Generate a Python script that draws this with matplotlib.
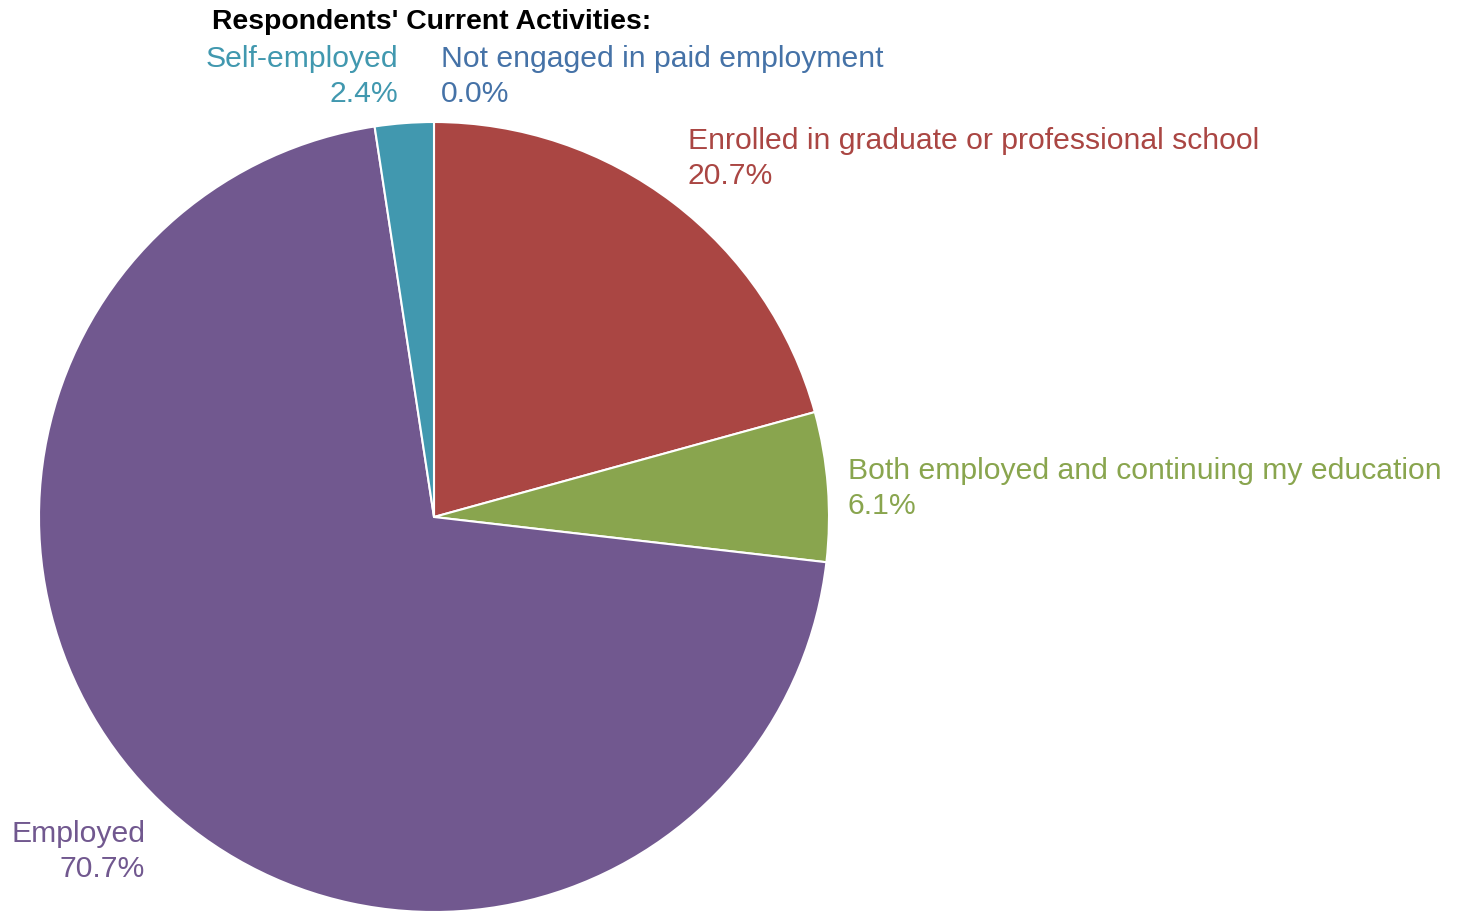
import matplotlib.pyplot as plt

# slice data, clockwise from 12 o'clock
categories = ['Not engaged in paid employment', 'Enrolled in graduate or professional school',
              'Both employed and continuing my education', 'Employed', 'Self-employed']
values = [0.0, 20.7, 6.1, 70.7, 2.4]
colors = ['#4572A7', '#AA4643', '#89A54E', '#71588F', '#4198AF']

W, H = 1462, 912
plt.rcParams['font.family'] = ['Liberation Sans', 'DejaVu Sans']

fig = plt.figure(figsize=(W / 100, H / 100), dpi=100)
ax = fig.add_axes([0, 0, 1, 1])

ax.pie(values, colors=colors, startangle=90, counterclock=False,
       center=(434, H - 518), radius=395, frame=True,
       wedgeprops=dict(edgecolor='white', linewidth=1.5))
ax.set_xlim(0, W)
ax.set_ylim(0, H)
ax.set_aspect('equal')
ax.axis('off')

# label anchors: x, baseline of first line (pixels from top), alignment
label_pos = {
    'Not engaged in paid employment': (441, 67, 'left'),
    'Enrolled in graduate or professional school': (688, 149, 'left'),
    'Both employed and continuing my education': (848, 479, 'left'),
    'Employed': (145, 842, 'right'),
    'Self-employed': (398, 67, 'right'),
}
line_h = 35
for cat, val, col in zip(categories, values, colors):
    x, y, ha = label_pos[cat]
    ax.text(x, H - y, cat, color=col, fontsize=21.7, ha=ha, va='baseline')
    ax.text(x, H - y - line_h, f'{val:.1f}%', color=col, fontsize=21.7, ha=ha, va='baseline')

ax.text(432, H - 29, "Respondents' Current Activities:", fontsize=20.4, fontweight='bold',
        ha='center', va='baseline', color='black')

fig.savefig('out.png', dpi=100)
